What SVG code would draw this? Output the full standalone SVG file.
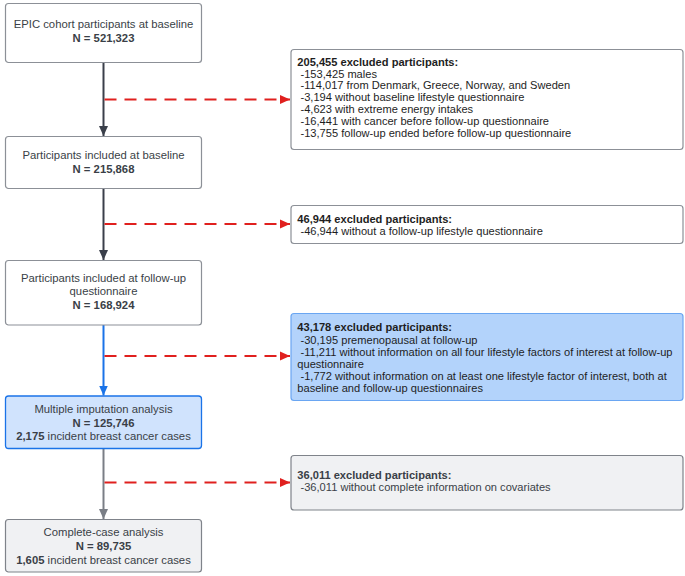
<svg xmlns="http://www.w3.org/2000/svg" width="685" height="576" viewBox="0 0 685 576">
<style>
text{font-family:"Liberation Sans",Arial,sans-serif}
.m{font-size:11.3px;fill:#3a3f47;text-anchor:middle}
.e{font-size:11.1px;fill:#1e1e1e}
.b{font-weight:bold}
.box{fill:#fff;stroke:#8c9097;stroke-width:1.2}
.grey{fill:#f0f1f3;stroke:#7f838a;stroke-width:1.2}
.red{stroke:#e0201e;stroke-width:2;stroke-dasharray:12 8;fill:none}
</style>
<defs>
<marker id="ar" viewBox="0 0 10 10" refX="10" refY="5" markerWidth="10" markerHeight="10" markerUnits="userSpaceOnUse" orient="auto"><path d="M0,0.5L10,5L0,9.5z" fill="#e0201e"/></marker>
<marker id="ad" viewBox="0 0 10 10" refX="10" refY="5" markerWidth="10" markerHeight="11" markerUnits="userSpaceOnUse" orient="auto"><path d="M0,0.5L10,5L0,9.5z" fill="#3a3f4a"/></marker>
<marker id="ab" viewBox="0 0 10 10" refX="10" refY="5" markerWidth="10" markerHeight="11" markerUnits="userSpaceOnUse" orient="auto"><path d="M0,0.5L10,5L0,9.5z" fill="#1a73e8"/></marker>
<marker id="ag" viewBox="0 0 10 10" refX="10" refY="5" markerWidth="10" markerHeight="11" markerUnits="userSpaceOnUse" orient="auto"><path d="M0,0.5L10,5L0,9.5z" fill="#7a7e86"/></marker>
</defs>
<g id="connectors">
<line x1="103.5" y1="62.5" x2="103.5" y2="136" stroke="#3a3f4a" stroke-width="2" marker-end="url(#ad)"/>
<line x1="103.5" y1="189" x2="103.5" y2="260" stroke="#3a3f4a" stroke-width="2" marker-end="url(#ad)"/>
<line x1="103.5" y1="325" x2="103.5" y2="395.5" stroke="#1a73e8" stroke-width="2" marker-end="url(#ab)"/>
<line x1="103.5" y1="448.5" x2="103.5" y2="519" stroke="#7a7e86" stroke-width="2" marker-end="url(#ag)"/>
<line class="red" x1="104.5" y1="99.5" x2="290" y2="99.5" marker-end="url(#ar)"/>
<line class="red" x1="104.5" y1="224" x2="290" y2="224" marker-end="url(#ar)"/>
<line class="red" x1="104.5" y1="356" x2="290" y2="356" marker-end="url(#ar)"/>
<line class="red" x1="104.5" y1="482.5" x2="290" y2="482.5" marker-end="url(#ar)"/>
</g>
<g id="n1">
<rect class="box" x="5.5" y="3.5" width="196" height="59" rx="3"/>
<text class="m" x="103.5" y="28">EPIC cohort participants at baseline</text>
<text class="m b" x="103.5" y="42">N = 521,323</text>
</g>
<g id="n2">
<rect class="box" x="5.5" y="136.5" width="196" height="52" rx="3"/>
<text class="m" x="103.5" y="159">Participants included at baseline</text>
<text class="m b" x="103.5" y="172.5">N = 215,868</text>
</g>
<g id="n3">
<rect class="box" x="5.5" y="260.5" width="196" height="64.5" rx="3"/>
<text class="m" x="103.5" y="281.5">Participants included at follow-up</text>
<text class="m" x="103.5" y="295">questionnaire</text>
<text class="m b" x="103.5" y="309">N = 168,924</text>
</g>
<g id="n4">
<rect x="5.5" y="396" width="196" height="52.5" rx="3" fill="#d0e3fd" stroke="#1a73e8" stroke-width="1.3"/>
<text class="m" x="103.5" y="412.5">Multiple imputation analysis</text>
<text class="m b" x="103.5" y="426.5">N = 125,746</text>
<text class="m" x="103.5" y="440"><tspan class="b">2,175</tspan> incident breast cancer cases</text>
</g>
<g id="n5">
<rect class="grey" x="5.5" y="519.5" width="196" height="52.5" rx="3"/>
<text class="m" x="103.5" y="536">Complete-case analysis</text>
<text class="m b" x="103.5" y="550">N = 89,735</text>
<text class="m" x="103.5" y="563.5"><tspan class="b">1,605</tspan> incident breast cancer cases</text>
</g>
<g id="x1">
<rect class="box" x="291" y="49.5" width="392" height="100" rx="3"/>
<text class="e b" x="297.3" y="65.7">205,455 excluded participants:</text>
<text class="e" x="300.5" y="77.5">-153,425 males</text>
<text class="e" x="300.5" y="89.3">-114,017 from Denmark, Greece, Norway, and Sweden</text>
<text class="e" x="300.5" y="101.1">-3,194 without baseline lifestyle questionnaire</text>
<text class="e" x="300.5" y="112.9">-4,623 with extreme energy intakes</text>
<text class="e" x="300.5" y="124.7">-16,441 with cancer before follow-up questionnaire</text>
<text class="e" x="300.5" y="136.5">-13,755 follow-up ended before follow-up questionnaire</text>
</g>
<g id="x2">
<rect class="box" x="291" y="205.5" width="392" height="38" rx="3"/>
<text class="e b" x="297.3" y="223">46,944 excluded participants:</text>
<text class="e" x="300.5" y="234.8">-46,944 without a follow-up lifestyle questionnaire</text>
</g>
<g id="x3">
<rect x="291" y="313.5" width="392" height="87" rx="3" fill="#b3d3fb" stroke="#6aa6f2" stroke-width="1.2"/>
<text class="e b" x="297.3" y="331.3">43,178 excluded participants:</text>
<text class="e" x="300.5" y="343.5">-30,195 premenopausal at follow-up</text>
<text class="e" x="300.5" y="355.7">-11,211 without information on all four lifestyle factors of interest at follow-up</text>
<text class="e" x="297.3" y="367.9">questionnaire</text>
<text class="e" x="300.5" y="380.1">-1,772 without information on at least one lifestyle factor of interest, both at</text>
<text class="e" x="297.3" y="392.3">baseline and follow-up questionnaires</text>
</g>
<g id="x4">
<rect class="grey" x="291" y="455.5" width="392" height="54.5" rx="3"/>
<text class="e b" x="297.3" y="479" fill="#3a3f47" style="fill:#3a3f47">36,011 excluded participants:</text>
<text class="e" x="300.5" y="490.8" style="fill:#3a3f47">-36,011 without complete information on covariates</text>
</g>
</svg>
